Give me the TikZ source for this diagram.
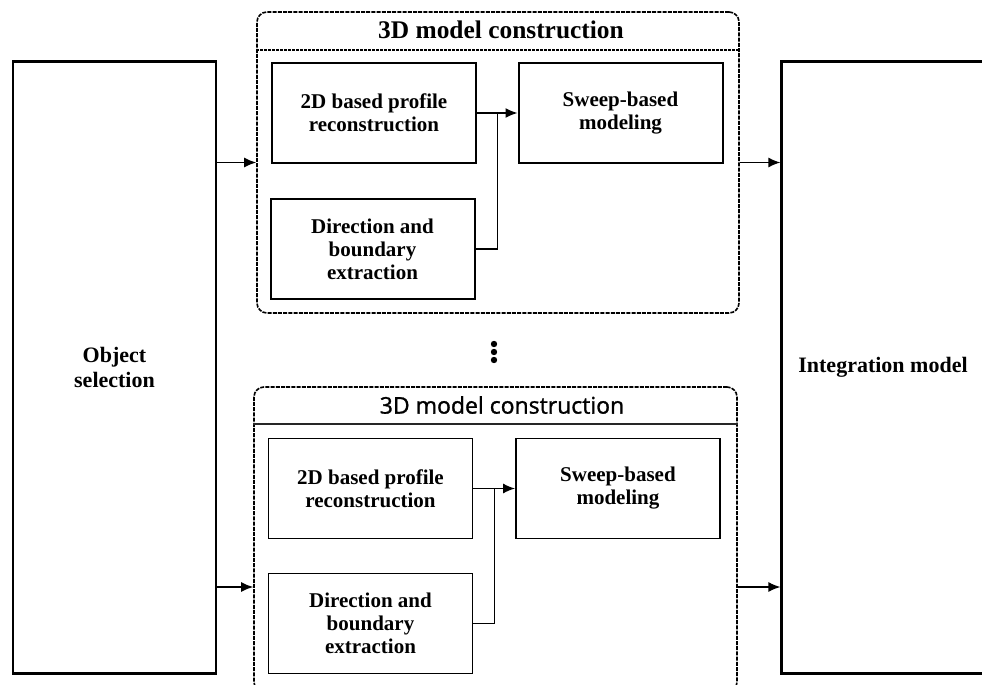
\documentclass[tikz,border=0pt]{standalone}
\usepackage{fontspec}
\setmainfont{Liberation Serif}
\newfontfamily\headsans[FakeBold=1.2]{Open Sans}
\usepackage{tikz}
\usetikzlibrary{calc}
\usetikzlibrary{arrows.meta,positioning}

\tikzset{
  block/.style={draw,line width=1pt,minimum width=102pt,minimum height=50pt,
    inner sep=0pt,align=center,font=\bfseries\fontsize{10.5}{11.5}\selectfont},
  side/.style={draw,line width=1.1pt,minimum width=101.5pt,minimum height=306pt,
    align=center,font=\bfseries\fontsize{11}{12.5}\selectfont},
  stage/.style={draw,line width=0.8pt,dash pattern=on 2pt off 0.6pt,
    rounded corners=5pt,inner sep=0pt},
  flow/.style={line width=0.7pt,-{Latex[length=6pt,width=5pt]}},
  link/.style={line width=0.7pt},
}

\begin{document}
\begin{tikzpicture}[x=0.5pt,y=-0.5pt]
  \useasboundingbox (0,0) rectangle (982,685);
  % 左右两侧的大方框
  \node[side] (obj) at (114.5,367.5) {Object\\selection};
  \node[side] (integ) at (883,367.5) {Integration model};

  % 第一组 3D 建模
  \node[stage,minimum width=241pt,minimum height=150.5pt] (grp1) at (498,162.5) {};
  \node[font=\bfseries\fontsize{12.7}{14}\selectfont] (ttl1) at (501,30) {3D model construction};
  \coordinate (sep1) at (0,50);
  \draw[line width=0.7pt,dash pattern=on 1.5pt off 0.5pt] (grp1.west |- sep1) -- (grp1.east |- sep1);
  \node[block] (prof1) at (374,113) {2D based profile\\reconstruction};
  \node[block] (dir1) at (372.5,249) {Direction and\\boundary\\extraction};
  \node[block] (sweep1) at (620.5,113) {Sweep-based\\modeling};
  \draw[flow] (prof1.east) -- (sweep1.west);
  \draw[link] (dir1.east) -| ($(prof1.east)!.5!(sweep1.west)$);

  % 中间的省略号
  \foreach \y in {344,352,360}
    \fill (494,\y) circle (1.6pt);

  % 第二组 3D 建模
  \node[stage,minimum width=241.5pt,minimum height=152.5pt] (grp2) at (495.5,539.5) {};
  \node[font=\headsans\fontsize{11.5}{13}\selectfont] (ttl2) at (502,405) {3D model construction};
  \coordinate (sep2) at (0,424);
  \draw[line width=0.6pt,black!85] (grp2.west |- sep2) -- (grp2.east |- sep2);
  \node[block,line width=0.9pt] (prof2) at (370.5,488.5) {2D based profile\\reconstruction};
  \node[block,line width=0.9pt] (dir2) at (370.5,623.5) {Direction and\\boundary\\extraction};
  \node[block,line width=0.9pt] (sweep2) at (618,488.5) {Sweep-based\\modeling};
  \draw[flow] (prof2.east) -- (sweep2.west);
  \draw[link] (dir2.east) -| ($(prof2.east)!.5!(sweep2.west)$);

  % 组与两侧方框的连线
  \coordinate (lvl2) at (0,587);
  \draw[flow] (obj.east |- grp1.west) -- (grp1.west);
  \draw[flow] (grp1.east) -- (integ.west |- grp1.east);
  \draw[flow] (obj.east |- lvl2) -- (grp2.west |- lvl2);
  \draw[flow] (grp2.east |- lvl2) -- (integ.west |- lvl2);
\end{tikzpicture}
\end{document}
